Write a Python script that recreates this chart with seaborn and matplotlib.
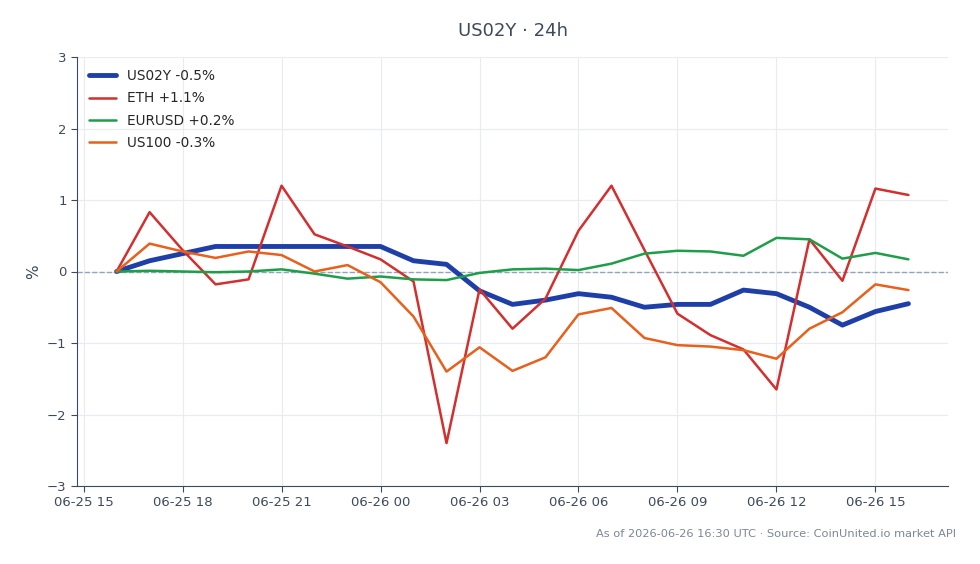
import pandas as pd
import seaborn as sns
import matplotlib.pyplot as plt
import matplotlib.dates as mdates

# hourly points, 06-25 16:00 -> 06-26 16:00
times = pd.date_range('2026-06-25 16:00', periods=25, freq='h')

us02y = [0.0, 0.15, 0.25, 0.35, 0.35, 0.35, 0.35, 0.35, 0.35, 0.15, 0.1, -0.27, -0.46,
         -0.4, -0.31, -0.36, -0.5, -0.46, -0.46, -0.26, -0.31, -0.5, -0.75, -0.56, -0.45]
eth = [0.0, 0.83, 0.3, -0.18, -0.11, 1.2, 0.52, 0.35, 0.17, -0.14, -2.4, -0.25, -0.8,
       -0.38, 0.57, 1.2, 0.3, -0.59, -0.89, -1.09, -1.65, 0.45, -0.13, 1.16, 1.07]
eurusd = [0.0, 0.01, 0.0, -0.01, 0.0, 0.03, -0.03, -0.1, -0.07, -0.11, -0.12, -0.02, 0.03,
          0.04, 0.02, 0.11, 0.25, 0.29, 0.28, 0.22, 0.47, 0.45, 0.18, 0.26, 0.17]
us100 = [0.0, 0.39, 0.28, 0.19, 0.28, 0.23, 0.0, 0.09, -0.15, -0.63, -1.4, -1.06, -1.39,
         -1.2, -0.6, -0.51, -0.93, -1.03, -1.05, -1.1, -1.22, -0.8, -0.57, -0.18, -0.26]

series = {'US02Y -0.5%': us02y, 'ETH +1.1%': eth, 'EURUSD +0.2%': eurusd, 'US100 -0.3%': us100}
colors = ['#1f3fa8', '#d32f2f', '#1e9e4a', '#e8601c']
widths = [3.5, 1.8, 1.8, 1.8]

sns.set_style('white')
plt.rcParams['font.family'] = ['DejaVu Sans']

fig = plt.figure(figsize=(9.8, 5.64), dpi=100)
ax = fig.add_axes([77/980, 1-486/564, (948-77)/980, (486-57)/564])

ax.axhline(0, color='#94a3b8', lw=1, ls='--', zorder=1)
for (name, vals), c, w in zip(series.items(), colors, widths):
    df = pd.DataFrame({'t': times, 'v': vals})
    sns.lineplot(data=df, x='t', y='v', ax=ax, color=c, lw=w, label=name, zorder=3)

ax.set_ylim(-3, 3)
ax.set_yticks(range(-3, 4))
ax.xaxis.set_major_locator(mdates.HourLocator(byhour=range(0, 24, 3)))
ax.xaxis.set_major_formatter(mdates.DateFormatter('%m-%d %H'))
ax.grid(True, color='#e8ecf1', lw=0.8)
ax.set_xlabel('')
ax.set_ylabel('%', color='#3d4a5c', fontsize=11)
for s in ['top', 'right']:
    ax.spines[s].set_visible(False)
for s in ['left', 'bottom']:
    ax.spines[s].set_color('#3d4a5c')
ax.tick_params(colors='#3d4a5c', labelsize=9.5, length=4, bottom=True, left=True)

ax.legend(loc='upper left', frameon=False, fontsize=9.8, labelspacing=0.6,
          borderaxespad=0.5)
ax.set_title('US02Y · 24h', color='#3d4a5c', fontsize=13, pad=15)
fig.text(956/980, 1-534/564, 'As of 2026-06-26 16:30 UTC · Source: CoinUnited.io market API',
         ha='right', va='center', fontsize=8.2, color='#7c8796')

fig.savefig('out.png', dpi=100)
